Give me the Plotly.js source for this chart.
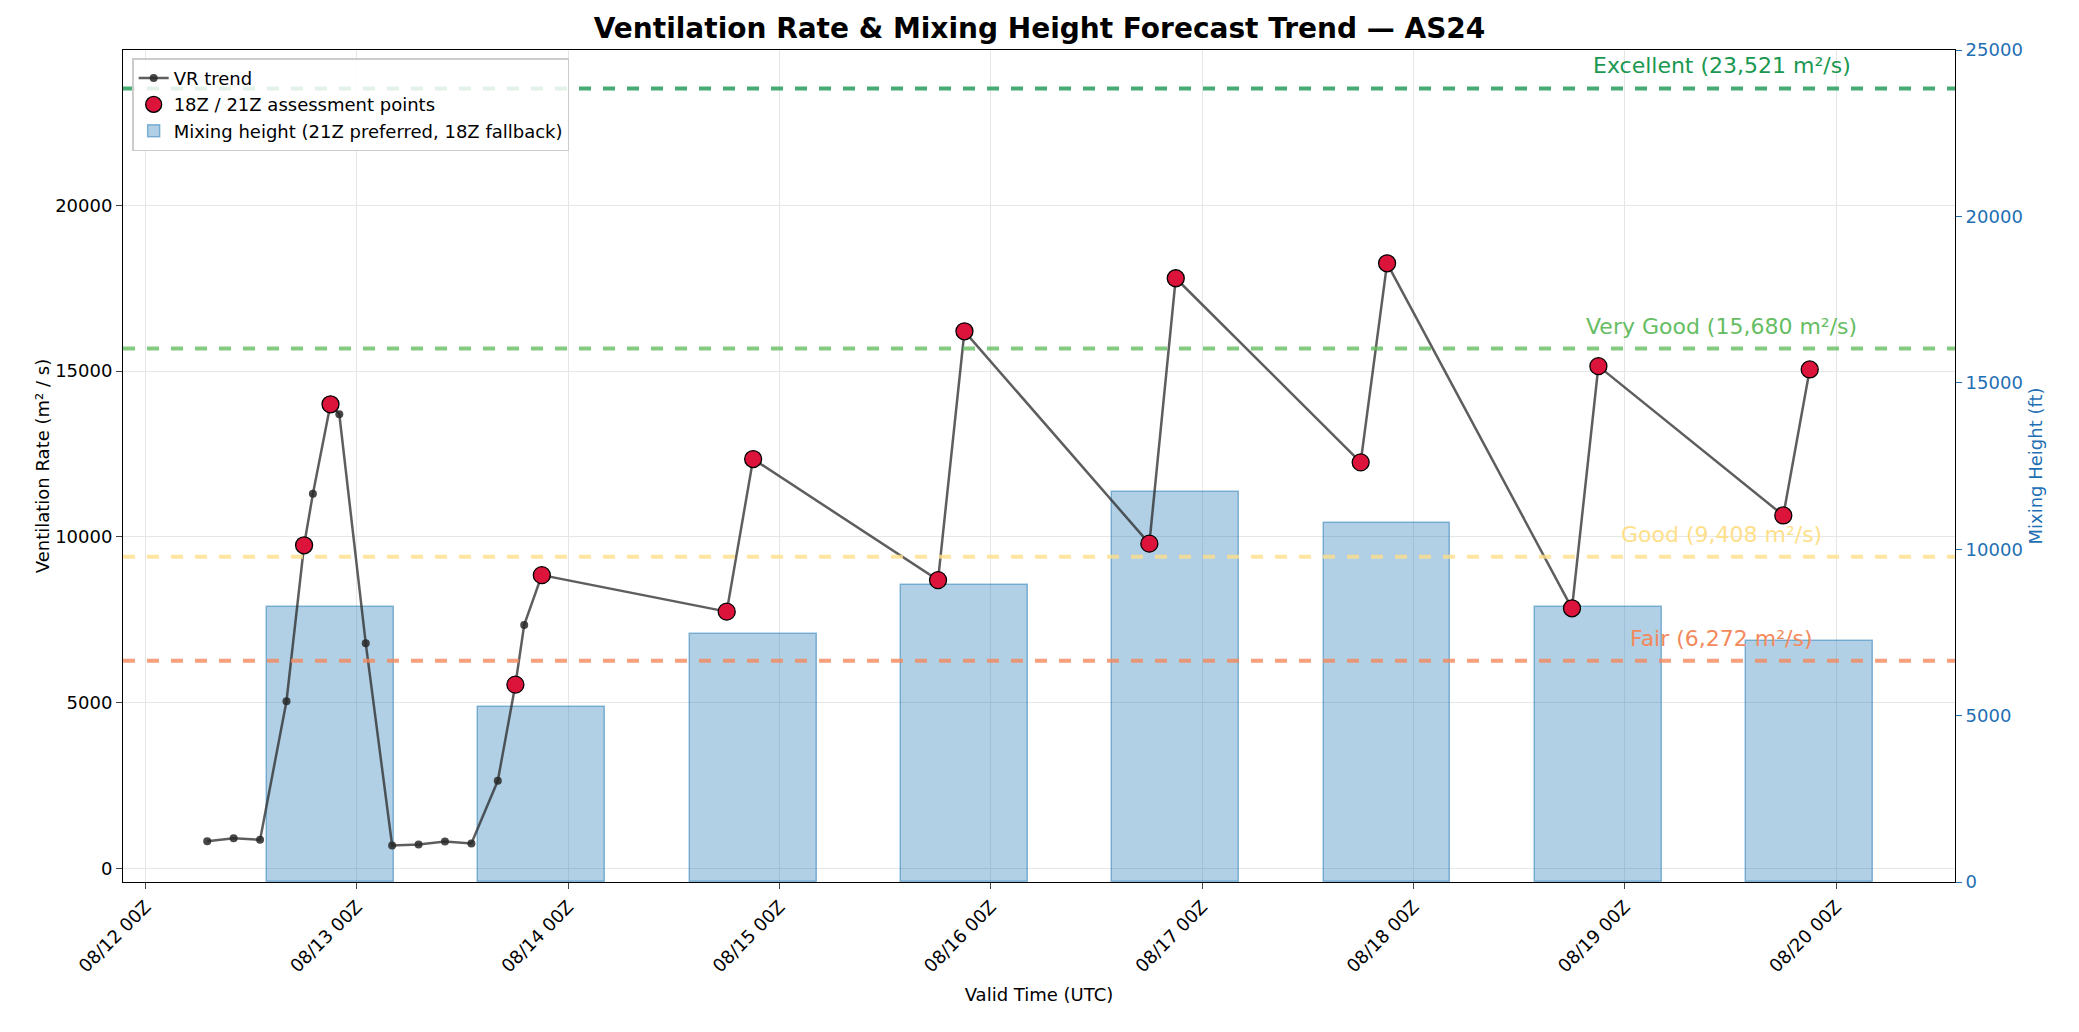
<!DOCTYPE html>
<html><head><meta charset="utf-8">
<script src="https://cdn.plot.ly/plotly-3.0.1.min.js"></script>
<style>body{margin:0;background:#fff}#c{width:2079px;height:1032px}</style>
</head><body><div id="c"></div>
<script>
const vrTimes=['2025-08-12 07:00','2025-08-12 10:00','2025-08-12 13:00','2025-08-12 16:00','2025-08-12 18:00','2025-08-12 19:00','2025-08-12 21:00','2025-08-12 22:00',
'2025-08-13 01:00','2025-08-13 04:00','2025-08-13 07:00','2025-08-13 10:00','2025-08-13 13:00','2025-08-13 16:00','2025-08-13 18:00','2025-08-13 19:00','2025-08-13 21:00',
'2025-08-14 18:00','2025-08-14 21:00','2025-08-15 18:00','2025-08-15 21:00','2025-08-16 18:00','2025-08-16 21:00','2025-08-17 18:00','2025-08-17 21:00','2025-08-18 18:00','2025-08-18 21:00','2025-08-19 18:00','2025-08-19 21:00'];
const vrValues=[830,920,870,5050,9750,11300,14000,13700,6800,700,730,820,760,2650,5550,7350,8850,7750,12350,8700,16200,9800,17800,12250,18250,7850,15150,10650,15050];
const assessTimes=['2025-08-12 18:00','2025-08-12 21:00','2025-08-13 18:00','2025-08-13 21:00','2025-08-14 18:00','2025-08-14 21:00','2025-08-15 18:00','2025-08-15 21:00','2025-08-16 18:00','2025-08-16 21:00','2025-08-17 18:00','2025-08-17 21:00','2025-08-18 18:00','2025-08-18 21:00','2025-08-19 18:00','2025-08-19 21:00'];
const assessValues=[9750,14000,5550,8850,7750,12350,8700,16200,9800,17800,12250,18250,7850,15150,10650,15050];
const mixTimes=['2025-08-12 21:00','2025-08-13 21:00','2025-08-14 21:00','2025-08-15 21:00','2025-08-16 21:00','2025-08-17 21:00','2025-08-18 21:00','2025-08-19 21:00'];
const mixHeights=[8250,5260,7455,8930,11720,10800,8250,7255];
const thrNames=['Excellent','Very Good','Good','Fair'];
const thrValues=[23521,15680,9408,6272];
const thrColors=['#1a9850','#66bd63','#fee08b','#f4895c'];
const tickVals=['2025-08-12','2025-08-13','2025-08-14','2025-08-15','2025-08-16','2025-08-17','2025-08-18','2025-08-19','2025-08-20'];
const tickText=['08/12 00Z','08/13 00Z','08/14 00Z','08/15 00Z','08/16 00Z','08/17 00Z','08/18 00Z','08/19 00Z','08/20 00Z'];

const traces=[
{type:'scatter',mode:'lines+markers',x:vrTimes,y:vrValues,yaxis:'y2',name:'VR trend',
 line:{color:'rgba(40,40,40,0.75)',width:2.5},marker:{size:8,color:'rgba(40,40,40,0.85)'}},
{type:'scatter',mode:'markers',x:assessTimes,y:assessValues,yaxis:'y2',name:'18Z / 21Z assessment points',
 marker:{size:17,color:'#dc143c',line:{color:'#000',width:1.3}}},
{type:'bar',x:mixTimes,y:mixHeights,yaxis:'y',name:'Mixing height (21Z preferred, 18Z fallback)',
 width:0.6*86400000,marker:{color:'rgba(31,119,180,0.35)',line:{color:'rgba(31,119,180,0.5)',width:1.5}}}
];
const shapes=thrValues.map((v,i)=>({type:'line',xref:'paper',x0:0,x1:1,yref:'y2',y0:v,y1:v,
 line:{color:thrColors[i],width:4,dash:'dash'},opacity:0.8}));
const annotations=thrValues.map((v,i)=>({xref:'x',yref:'y2',x:'2025-08-19 11:00',y:v,yanchor:'bottom',yshift:8,
 text:thrNames[i]+' ('+v.toLocaleString('en-US')+' m²/s)',showarrow:false,font:{size:22,color:thrColors[i]}}));
const f='DejaVu Sans';
Plotly.newPlot('c',traces,{
 width:2079,height:1032,margin:{l:123,r:124,t:50,b:150},
 font:{family:f,size:17,color:'#000'},paper_bgcolor:'#fff',plot_bgcolor:'#fff',
 title:{text:'<b>Ventilation Rate & Mixing Height Forecast Trend — AS24</b>',x:0.5,y:0.973,yanchor:'middle',font:{size:28}},
 showlegend:true,legend:{x:0.005,y:0.99,xanchor:'left',yanchor:'top',bgcolor:'rgba(255,255,255,0.85)',bordercolor:'#ccc',borderwidth:1.5,font:{size:18},traceorder:'normal'},
 bargap:0,
 xaxis:{type:'date',range:['2025-08-11 21:26','2025-08-20 13:30'],tickvals:tickVals,ticktext:tickText,tickangle:-45,
  showgrid:true,gridcolor:'#e6e6e6',ticks:'outside',ticklen:6,showline:true,linecolor:'#000',mirror:true,tickfont:{size:18},
  title:{text:'Valid Time (UTC)',font:{size:18},standoff:12}},
 yaxis:{side:'right',range:[0,25000],tickvals:[0,5000,10000,15000,20000,25000],ticktext:['0','5000','10000','15000','20000','25000'],showgrid:false,zeroline:false,
  ticks:'outside',ticklen:6,tickfont:{color:'#1f6fb4',size:18},color:'#1f6fb4',linecolor:'#000',showline:true,
  title:{text:'Mixing Height (ft)',font:{color:'#1f6fb4',size:18}}},
 yaxis2:{overlaying:'y',side:'left',range:[-400,24680],tickvals:[0,5000,10000,15000,20000],ticktext:['0','5000','10000','15000','20000'],showgrid:true,gridcolor:'#e6e6e6',zeroline:false,
  ticks:'outside',ticklen:6,tickfont:{size:18},showline:true,linecolor:'#000',title:{text:'Ventilation Rate (m² / s)',font:{size:18}}},
 shapes:shapes,annotations:annotations
},{displayModeBar:false});
</script></body></html>
